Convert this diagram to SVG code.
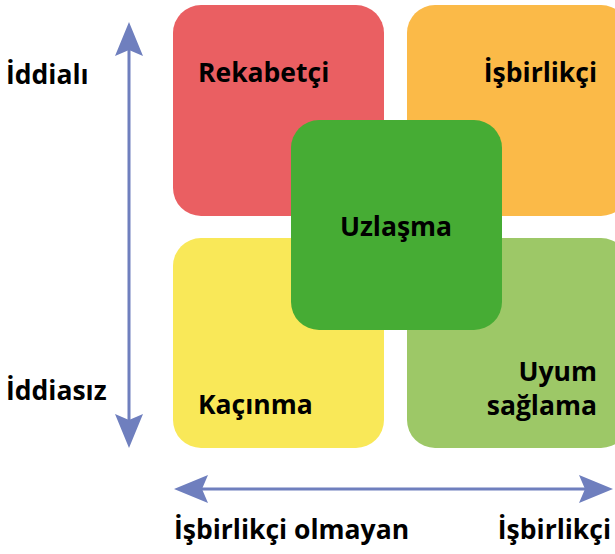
<svg xmlns="http://www.w3.org/2000/svg" width="615" height="554" viewBox="0 0 615 554">
<style>
text{font-family:"Open Sans","Noto Sans","DejaVu Sans",sans-serif;font-weight:bold;font-size:26.5px;fill:#000}
.ax{stroke:#6F7FBE;stroke-width:3;fill:none}
.ah{fill:#6F7FBE}
</style>
<rect width="615" height="554" fill="#fff"/>
<g id="rekabetci"><rect x="173" y="5" width="211" height="211" rx="28" fill="#EA5F62"/><text x="198" y="82">Rekabetçi</text></g>
<g id="isbirlikci"><rect x="407" y="5" width="222" height="211" rx="28" fill="#FBBA48"/><text x="597" y="82" text-anchor="end">İşbirlikçi</text></g>
<g id="kacinma"><rect x="173" y="238" width="211" height="210" rx="28" fill="#F9E858"/><text x="198" y="414">Kaçınma</text></g>
<g id="uyum"><rect x="407" y="238" width="222" height="210" rx="28" fill="#9DC867"/><text x="597" y="381" text-anchor="end">Uyum</text><text x="597" y="415" text-anchor="end">sağlama</text></g>
<g id="uzlasma"><rect x="291" y="120" width="211" height="210" rx="28" fill="#46AC34"/><text x="396" y="236" text-anchor="middle">Uzlaşma</text></g>
<g id="connectors">
<line class="ax" x1="129" y1="50" x2="129" y2="420"/>
<path class="ah" d="M129 22 L143 56 L129 50 L115 56 Z"/>
<path class="ah" d="M129 448 L143 414 L129 420 L115 414 Z"/>
<line class="ax" x1="200" y1="489" x2="586" y2="489"/>
<path class="ah" d="M174 489 L208 475 L202 489 L208 503 Z"/>
<path class="ah" d="M613 489 L579 475 L585 489 L579 503 Z"/>
</g>
<g id="labels">
<text x="6" y="84">İddialı</text>
<text x="6" y="400">İddiasız</text>
<text x="174" y="539">İşbirlikçi olmayan</text>
<text x="611" y="539" text-anchor="end">İşbirlikçi</text>
</g>
</svg>
